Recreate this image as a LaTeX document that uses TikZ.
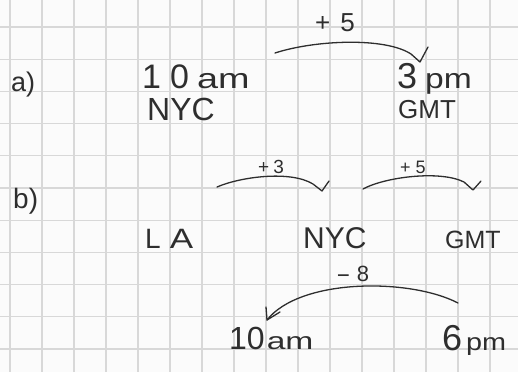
\documentclass[tikz,border=0pt]{standalone}
\usepackage{fontspec}
\newfontfamily\handfont{Liberation Sans}
\definecolor{ink}{HTML}{2E2E2E}
\definecolor{gridline}{HTML}{D8D8D8}
\definecolor{paper}{HTML}{FBFBFB}
\newcommand\fsz[1]{\fontsize{#1}{#1}\selectfont}
\newcommand\wide[2]{\scalebox{#1}[1]{#2}}

\begin{document}
\begin{tikzpicture}[x=1pt,y=-1pt,
  label/.style={font=\handfont, text=ink, inner sep=0pt, anchor=base west},
  stroke/.style={draw=ink, line width=1.3pt, line cap=round, line join=round},
  gridrule/.style={draw=gridline, line width=1.1pt}]
% squared paper
\fill[paper] (0,0) rectangle (518,372);
\useasboundingbox (0,0) rectangle (518,372);
\foreach \k in {0,...,15} \draw[gridrule] ({10+32*\k},0) -- ({10+32*\k},372);
\foreach \k in {0,...,10} \draw[gridrule] (0,{27+32.2*\k}) -- (518,{27+32.2*\k});

% part a)
\node[label, font=\handfont\fsz{27}] (pa) at (11,91) {a)};
\node[label] (ten) at (142,88) {{\fsz{34}1\hspace{9pt}0}\hspace{8pt}{\fsz{28}\wide{1.35}{am}}};
\node[label, font=\handfont\fsz{32}] (nyca) at (147,120) {NYC};
\node[label] (three) at (397,88) {{\fsz{36}3}\hspace{8pt}{\fsz{28}\wide{1.2}{pm}}};
\node[label, font=\handfont\fsz{26}] (gmta) at (398,118) {GMT};
\node[label, font=\handfont\fsz{26}] (plusfive) at (315,31) {+\hspace{10pt}5};

\coordinate (a-from) at (275,53);
\coordinate (a-tip) at (420,62);
\draw[stroke] (a-from) .. controls (315,40) and (385,37) .. (411,54) -- (a-tip) -- ++(8,-15);

% part b)
\node[label, font=\handfont\fsz{28}] (pb) at (13,208) {b)};
\node[label, font=\handfont\fsz{28}] (la) at (145,248) {L\hspace{9pt}\wide{1.25}{A}};
\node[label, font=\handfont\fsz{30}] (nycb) at (303,248) {NYC};
\node[label, font=\handfont\fsz{25}] (gmtb) at (445,248) {GMT};
\node[label, font=\handfont\fsz{19}] (plusthree) at (258,173) {+\hspace{4pt}3};
\node[label, font=\handfont\fsz{18}] (plusfiveb) at (400,173) {+\hspace{5pt}5};
\node[label, font=\handfont\fsz{22}] (minuseight) at (336,281) {\wide{2}{-}\hspace{6pt}8};
\node[label] (tenam) at (229,349) {{\fsz{32}10}\hspace{2pt}{\fsz{24}\wide{1.4}{am}}};
\node[label] (sixpm) at (442,350) {{\fsz{36}6}\hspace{4pt}{\fsz{24}\wide{1.2}{pm}}};

\coordinate (b1-from) at (217,187);
\coordinate (b1-tip) at (322,191);
\draw[stroke] (b1-from) .. controls (240,177) and (290,170) .. (313,184) -- (b1-tip) -- ++(7,-10);

\coordinate (b2-from) at (363,189);
\coordinate (b2-tip) at (473,190);
\draw[stroke] (b2-from) .. controls (385,177) and (440,170) .. (464,182) -- (b2-tip) -- ++(8,-9);

\coordinate (c-from) at (458,303);
\coordinate (c-tip) at (267,320);
\draw[stroke] (c-from) .. controls (410,278) and (300,278) .. (c-tip);
\draw[stroke] ([shift={(-1,-13)}]c-tip) -- (c-tip) -- ++(13,-8);
\end{tikzpicture}
\end{document}
